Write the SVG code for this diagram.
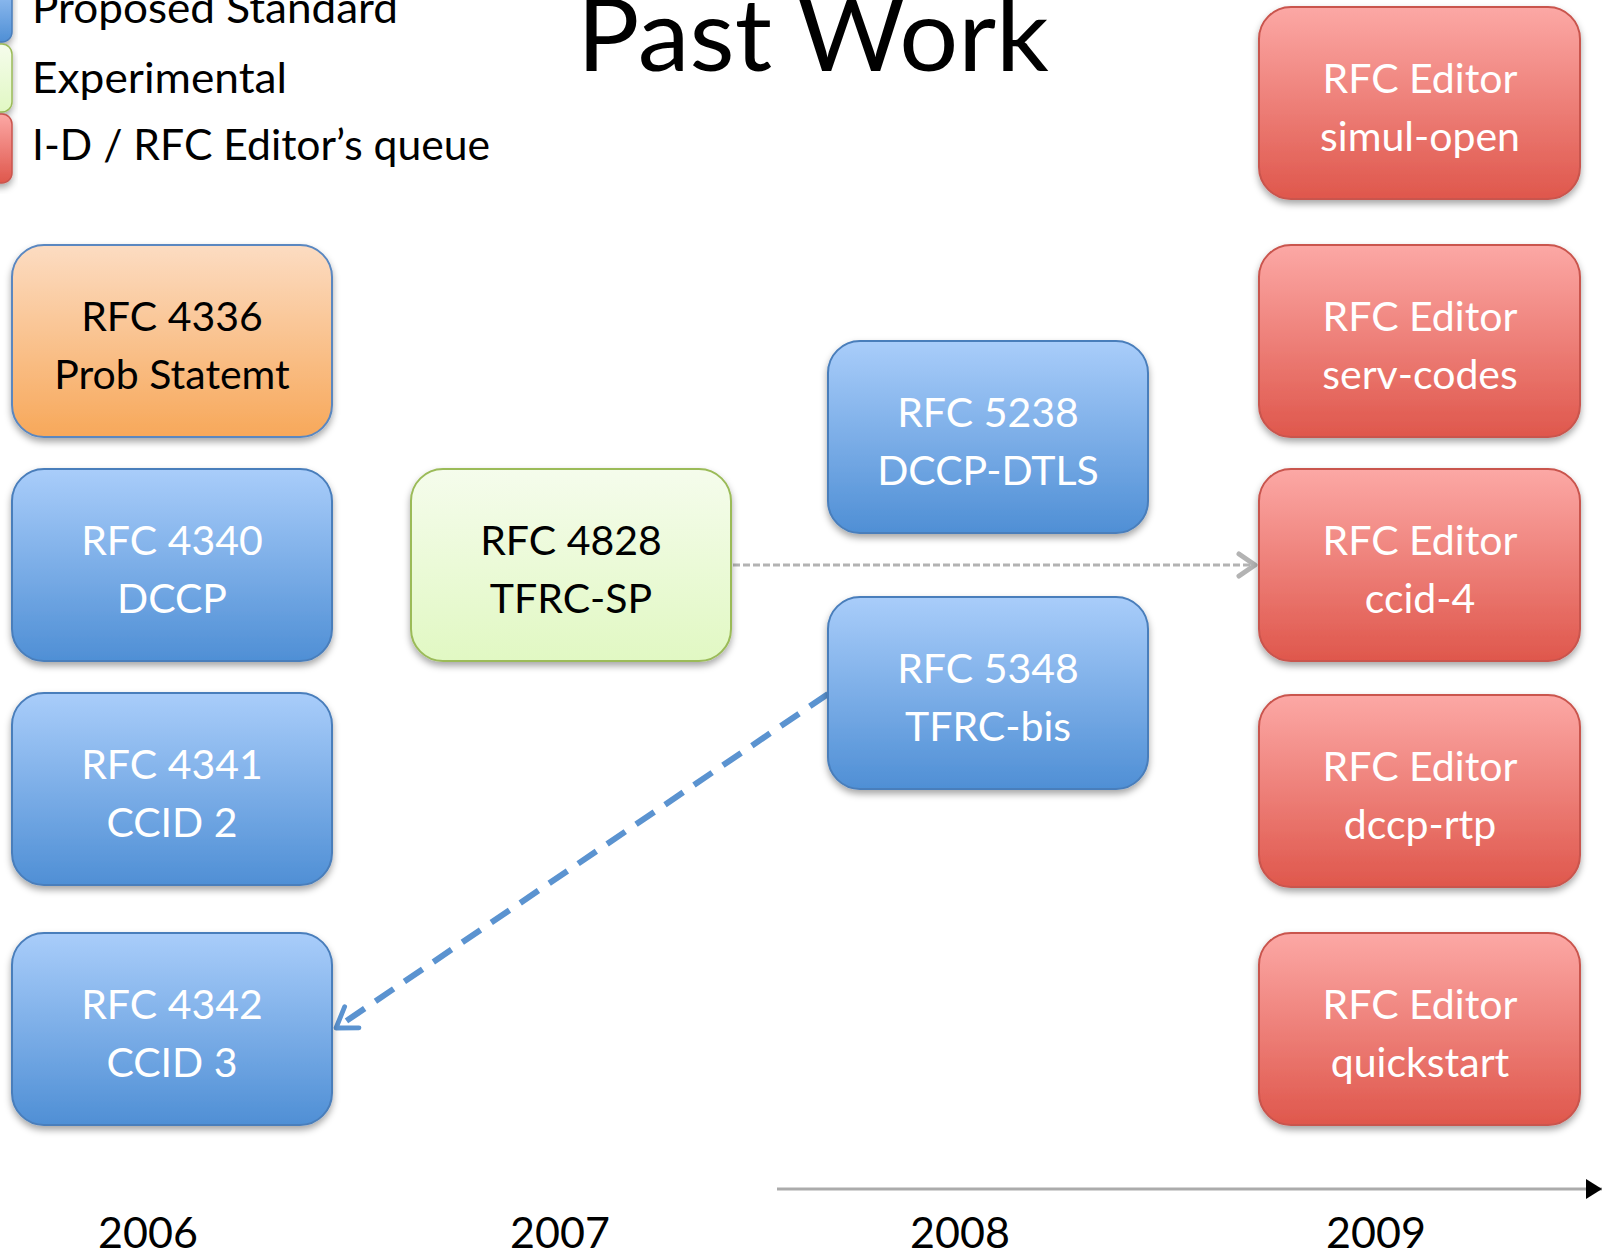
<svg xmlns="http://www.w3.org/2000/svg" width="1604" height="1252" viewBox="0 0 1604 1252">
<defs>
<style>
.t{font-family:Lato,"Liberation Sans",sans-serif;font-size:41px;text-anchor:middle}
.w{fill:#ffffff}
.k{fill:#000000}
.lg{font-family:Lato,"Liberation Sans",sans-serif;font-size:42px;fill:#000}
.yr{font-family:Lato,"Liberation Sans",sans-serif;font-size:43px;fill:#000;text-anchor:middle}
.box{filter:url(#sh)}
</style>
<filter id="sh" x="-10%" y="-10%" width="120%" height="125%">
<feDropShadow dx="0" dy="4" stdDeviation="3.5" flood-color="#000" flood-opacity="0.35"/>
</filter>
<linearGradient id="gBlue" x1="0" y1="0" x2="0" y2="1"><stop offset="0" stop-color="#a9cdfa"/><stop offset="1" stop-color="#4f8fd5"/></linearGradient>
<linearGradient id="gOrange" x1="0" y1="0" x2="0" y2="1"><stop offset="0" stop-color="#fcdcc2"/><stop offset="1" stop-color="#f7a85a"/></linearGradient>
<linearGradient id="gGreen" x1="0" y1="0" x2="0" y2="1"><stop offset="0" stop-color="#f5fcec"/><stop offset="1" stop-color="#e1f8c3"/></linearGradient>
<linearGradient id="gRed" x1="0" y1="0" x2="0" y2="1"><stop offset="0" stop-color="#fca8a5"/><stop offset="1" stop-color="#df574c"/></linearGradient>
<marker id="aGray" markerUnits="userSpaceOnUse" markerWidth="30" markerHeight="30" viewBox="-20 -15 25 30" refX="0" refY="0" orient="auto">
<path d="M-16,-11 L0,0 L-16,11" fill="none" stroke="#b3b3b3" stroke-width="5" stroke-linecap="round" stroke-linejoin="round"/>
</marker>
<marker id="aBlue" markerUnits="userSpaceOnUse" markerWidth="34" markerHeight="34" viewBox="-22 -16 27 32" refX="0" refY="0" orient="auto">
<path d="M-18,-12 L0,0 L-18,12" fill="none" stroke="#5b93d0" stroke-width="4.5" stroke-linecap="round" stroke-linejoin="round"/>
</marker>
<marker id="aBlack" markerUnits="userSpaceOnUse" markerWidth="24" markerHeight="24" viewBox="-18 -12 20 24" refX="0" refY="0" orient="auto">
<path d="M-16,-10 L0,0 L-16,10 Z" fill="#000"/>
</marker>
</defs>
<rect x="0" y="0" width="1604" height="1252" fill="#ffffff"/>

<g id="title">
<text x="813" y="71" font-family="Lato,'Liberation Sans',sans-serif" font-size="100" text-anchor="middle" textLength="472" lengthAdjust="spacingAndGlyphs">Past Work</text>
</g>

<g id="legend">
<rect class="box" x="-40" y="-26" width="52" height="68" rx="10" fill="url(#gBlue)" stroke="#4a7ebb" stroke-width="1.5"/>
<rect class="box" x="-40" y="44" width="52" height="68" rx="10" fill="url(#gGreen)" stroke="#9bbb59" stroke-width="1.5"/>
<rect class="box" x="-40" y="114" width="52" height="69" rx="10" fill="url(#gRed)" stroke="#c9544d" stroke-width="1.5"/>
<text class="lg" x="32" y="23" textLength="366" lengthAdjust="spacingAndGlyphs">Proposed Standard</text>
<text class="lg" x="32" y="93" textLength="255" lengthAdjust="spacingAndGlyphs">Experimental</text>
<text class="lg" x="32" y="160" textLength="458" lengthAdjust="spacingAndGlyphs">I-D / RFC Editor’s queue</text>
</g>

<g id="connectors">
<line x1="733" y1="565" x2="1255" y2="565" stroke="#b3b3b3" stroke-width="3" stroke-dasharray="7 3" marker-end="url(#aGray)"/>
<line x1="828" y1="694" x2="336" y2="1028" stroke="#5b93d0" stroke-width="6" stroke-dasharray="22 13" marker-end="url(#aBlue)"/>
<line x1="777" y1="1189" x2="1602" y2="1189" stroke="#ababab" stroke-width="3" marker-end="url(#aBlack)"/>
</g>

<g id="n4336">
<rect class="box" x="12" y="245" width="320" height="192" rx="32" fill="url(#gOrange)" stroke="#5a87c0" stroke-width="2"/>
<text class="t k" x="172" y="331">RFC 4336</text>
<text class="t k" x="172" y="389">Prob Statemt</text>
</g>
<g id="n4340">
<rect class="box" x="12" y="469" width="320" height="192" rx="32" fill="url(#gBlue)" stroke="#4a7ebb" stroke-width="2"/>
<text class="t w" x="172" y="555">RFC 4340</text>
<text class="t w" x="172" y="613">DCCP</text>
</g>
<g id="n4341">
<rect class="box" x="12" y="693" width="320" height="192" rx="32" fill="url(#gBlue)" stroke="#4a7ebb" stroke-width="2"/>
<text class="t w" x="172" y="779">RFC 4341</text>
<text class="t w" x="172" y="837">CCID 2</text>
</g>
<g id="n4342">
<rect class="box" x="12" y="933" width="320" height="192" rx="32" fill="url(#gBlue)" stroke="#4a7ebb" stroke-width="2"/>
<text class="t w" x="172" y="1019">RFC 4342</text>
<text class="t w" x="172" y="1077">CCID 3</text>
</g>
<g id="n4828">
<rect class="box" x="411" y="469" width="320" height="192" rx="32" fill="url(#gGreen)" stroke="#9bbb59" stroke-width="2"/>
<text class="t k" x="571" y="555">RFC 4828</text>
<text class="t k" x="571" y="613">TFRC-SP</text>
</g>
<g id="n5238">
<rect class="box" x="828" y="341" width="320" height="192" rx="32" fill="url(#gBlue)" stroke="#4a7ebb" stroke-width="2"/>
<text class="t w" x="988" y="427">RFC 5238</text>
<text class="t w" x="988" y="485">DCCP-DTLS</text>
</g>
<g id="n5348">
<rect class="box" x="828" y="597" width="320" height="192" rx="32" fill="url(#gBlue)" stroke="#4a7ebb" stroke-width="2"/>
<text class="t w" x="988" y="683">RFC 5348</text>
<text class="t w" x="988" y="741">TFRC-bis</text>
</g>
<g id="simul-open">
<rect class="box" x="1259" y="7" width="321" height="192" rx="32" fill="url(#gRed)" stroke="#c9544d" stroke-width="2"/>
<text class="t w" x="1420" y="93">RFC Editor</text>
<text class="t w" x="1420" y="151">simul-open</text>
</g>
<g id="serv-codes">
<rect class="box" x="1259" y="245" width="321" height="192" rx="32" fill="url(#gRed)" stroke="#c9544d" stroke-width="2"/>
<text class="t w" x="1420" y="331">RFC Editor</text>
<text class="t w" x="1420" y="389">serv-codes</text>
</g>
<g id="ccid-4">
<rect class="box" x="1259" y="469" width="321" height="192" rx="32" fill="url(#gRed)" stroke="#c9544d" stroke-width="2"/>
<text class="t w" x="1420" y="555">RFC Editor</text>
<text class="t w" x="1420" y="613">ccid-4</text>
</g>
<g id="dccp-rtp">
<rect class="box" x="1259" y="695" width="321" height="192" rx="32" fill="url(#gRed)" stroke="#c9544d" stroke-width="2"/>
<text class="t w" x="1420" y="781">RFC Editor</text>
<text class="t w" x="1420" y="839">dccp-rtp</text>
</g>
<g id="quickstart">
<rect class="box" x="1259" y="933" width="321" height="192" rx="32" fill="url(#gRed)" stroke="#c9544d" stroke-width="2"/>
<text class="t w" x="1420" y="1019">RFC Editor</text>
<text class="t w" x="1420" y="1077">quickstart</text>
</g>

<g id="years">
<text class="yr" x="148" y="1248">2006</text>
<text class="yr" x="560" y="1248">2007</text>
<text class="yr" x="960" y="1248">2008</text>
<text class="yr" x="1376" y="1248">2009</text>
</g>
</svg>
